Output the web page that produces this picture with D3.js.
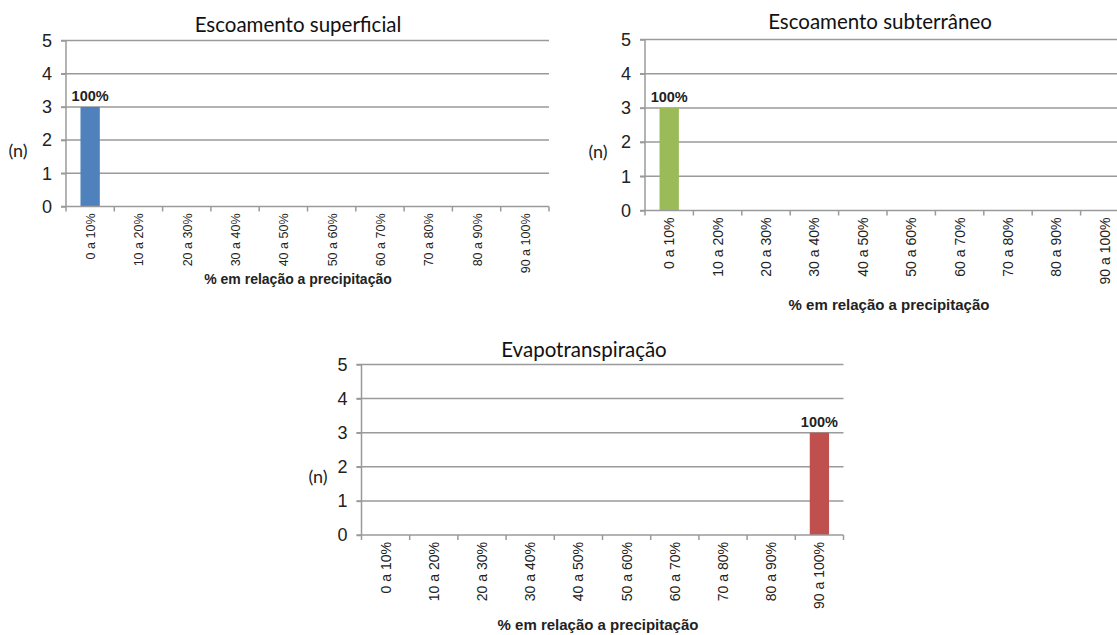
<!DOCTYPE html>
<html>
<head>
<meta charset="utf-8">
<script src="https://cdn.jsdelivr.net/npm/d3@7"></script>
<style>
  html, body { margin: 0; padding: 0; background: #fff; }
  svg { display: block; }
</style>
</head>
<body>
<svg id="chart" width="1117" height="635"></svg>
<script>
// Classes of runoff / evapotranspiration as % of precipitation
const categories = ["0 a 10%", "10 a 20%", "20 a 30%", "30 a 40%", "40 a 50%",
                    "50 a 60%", "60 a 70%", "70 a 80%", "80 a 90%", "90 a 100%"];
const yTicks = [0, 1, 2, 3, 4, 5];

// Number of cases (n) per class
const superficialValues = [3, 0, 0, 0, 0, 0, 0, 0, 0, 0];
const subterraneoValues = [3, 0, 0, 0, 0, 0, 0, 0, 0, 0];
const evapoValues       = [0, 0, 0, 0, 0, 0, 0, 0, 0, 3];

const titles = ["Escoamento superficial", "Escoamento subterrâneo", "Evapotranspiração"];
const xTitle = "% em relação a precipitação";
const yTitle = "(n)";

const svg = d3.select("#chart");

const panels = [
  { values: superficialValues, title: titles[0], color: "#4F81BD",
    x0: 66, x1: 549, top: 40.5, base: 206.5, titleX: 298, titleY: 32,
    yLabX: 18, xTitleX: 298, xTitleY: 284, lab: 12.5, xt: 14 },
  { values: subterraneoValues, title: titles[1], color: "#9BBB59",
    x0: 645, x1: 1129, top: 39.5, base: 210.5, titleX: 880, titleY: 29,
    yLabX: 598, xTitleX: 889, xTitleY: 310, lab: 14, xt: 15 },
  { values: evapoValues, title: titles[2], color: "#C0504D",
    x0: 361.5, x1: 843.5, top: 364.5, base: 535, titleX: 584, titleY: 357,
    yLabX: 318, xTitleX: 598, xTitleY: 630, lab: 14, xt: 15 }
];

const gridColor = "#9a9a9a";

panels.forEach(p => {
  const g = svg.append("g");

  const x = d3.scaleBand()
    .domain(categories)
    .range([p.x0, p.x1])
    .paddingInner(0.6)
    .paddingOuter(0.3);

  const y = d3.scaleLinear().domain([0, 5]).range([p.base, p.top]);

  // horizontal gridlines (with small outer ticks on the left)
  g.selectAll("line.grid")
    .data(yTicks.filter(t => t > 0))
    .join("line")
    .attr("x1", p.x0 - 5).attr("x2", p.x1)
    .attr("y1", d => y(d)).attr("y2", d => y(d))
    .attr("stroke", gridColor).attr("stroke-width", 1.5);

  // y axis
  const yAxis = d3.axisLeft(y).tickValues(yTicks).tickSize(5).tickPadding(9)
    .tickFormat(d3.format("d"));
  const ya = g.append("g").attr("transform", `translate(${p.x0},0)`).call(yAxis);
  ya.select(".domain").attr("stroke", gridColor).attr("stroke-width", 1.5)
    .attr("d", `M0,${p.top}V${p.base}`);
  ya.selectAll(".tick line").attr("stroke", gridColor).attr("stroke-width", 1.5);
  ya.selectAll(".tick text")
    .attr("font-family", "Liberation Sans, Arial, sans-serif")
    .attr("font-size", 18).attr("fill", "#222");

  // bars
  g.selectAll("rect.bar")
    .data(p.values.map((v, i) => ({ cat: categories[i], v })).filter(d => d.v > 0))
    .join("rect")
    .attr("x", d => x(d.cat))
    .attr("width", x.bandwidth())
    .attr("y", d => y(d.v))
    .attr("height", d => y(0) - y(d.v))
    .attr("fill", p.color);

  // x axis baseline and category boundary ticks
  g.append("line")
    .attr("x1", p.x0 - 5).attr("x2", p.x1)
    .attr("y1", p.base).attr("y2", p.base)
    .attr("stroke", gridColor).attr("stroke-width", 1.5);
  const step = x.step();
  g.selectAll("line.xtick")
    .data(d3.range(categories.length + 1))
    .join("line")
    .attr("x1", i => p.x0 + i * step).attr("x2", i => p.x0 + i * step)
    .attr("y1", p.base).attr("y2", p.base + 5)
    .attr("stroke", gridColor).attr("stroke-width", 1.5);

  // rotated category labels
  g.selectAll("text.cat")
    .data(categories)
    .join("text")
    .attr("transform", d => `translate(${x(d) + x.bandwidth() / 2 + 5},${p.base + 7}) rotate(-90)`)
    .attr("text-anchor", "end")
    .attr("font-family", "Liberation Sans, Arial, sans-serif")
    .attr("font-size", p.lab).attr("fill", "#222")
    .text(d => d);

  // value labels (share of total)
  const total = d3.sum(p.values);
  g.selectAll("text.val")
    .data(p.values.map((v, i) => ({ cat: categories[i], v })).filter(d => d.v > 0))
    .join("text")
    .attr("x", d => x(d.cat) + x.bandwidth() / 2)
    .attr("y", d => y(d.v) - 6)
    .attr("text-anchor", "middle")
    .attr("font-family", "Liberation Sans, Arial, sans-serif")
    .attr("font-weight", "bold").attr("font-size", 14.5).attr("fill", "#222")
    .text(d => d3.format(".0%")(d.v / total));

  // title
  g.append("text")
    .attr("x", p.titleX).attr("y", p.titleY)
    .attr("text-anchor", "middle")
    .attr("font-family", "Lato, 'Open Sans', sans-serif")
    .attr("font-size", 20.5).attr("fill", "#111")
    .text(p.title);

  // y axis title
  g.append("text")
    .attr("x", p.yLabX).attr("y", (p.top + p.base) / 2 + 33)
    .attr("text-anchor", "middle")
    .attr("font-family", "Lato, 'Open Sans', sans-serif")
    .attr("font-size", 18).attr("fill", "#222")
    .text(yTitle);

  // x axis title
  g.append("text")
    .attr("x", p.xTitleX).attr("y", p.xTitleY)
    .attr("text-anchor", "middle")
    .attr("font-family", "Liberation Sans, Arial, sans-serif")
    .attr("font-weight", "bold").attr("font-size", p.xt).attr("fill", "#222")
    .text(xTitle);
});
</script>
</body>
</html>
